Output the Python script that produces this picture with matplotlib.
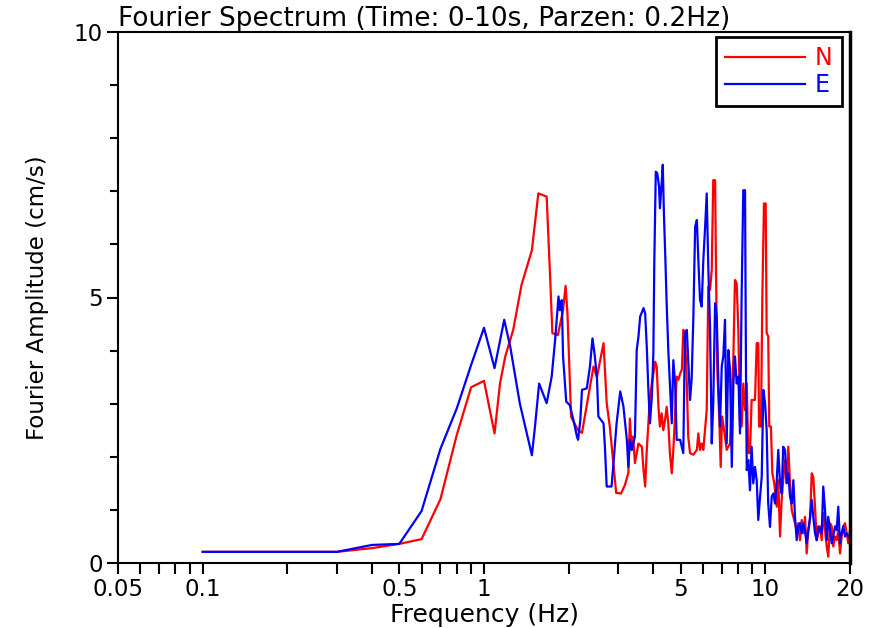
import numpy as np
import matplotlib
matplotlib.use("Agg")
import matplotlib.pyplot as plt
from matplotlib.ticker import FixedLocator, NullFormatter

# ---------------- data ----------------
freq_n = [0.1, 0.2, 0.3, 0.4, 0.5, 0.6, 0.7, 0.8, 0.9, 1.0, 1.09, 1.14, 1.19, 1.27, 1.36,
          1.48, 1.56, 1.67, 1.72, 1.75, 1.83, 1.91, 1.95, 1.98, 2.04, 2.16, 2.23, 2.35, 2.45,
          2.52, 2.66, 2.73, 2.80, 2.88, 2.95, 3.07, 3.17, 3.26, 3.30, 3.35, 3.39, 3.44, 3.54,
          3.64, 3.69, 3.74, 3.79, 3.84, 3.89, 3.95, 4.06, 4.11, 4.17, 4.22, 4.28, 4.34, 4.40,
          4.46, 4.52, 4.58, 4.65, 4.71, 4.78, 4.84, 4.91, 4.98, 5.05, 5.11, 5.18, 5.26, 5.32,
          5.40, 5.55, 5.71, 5.78, 5.86, 5.94, 6.02, 6.19, 6.27, 6.36, 6.45, 6.53, 6.63, 6.68,
          6.75, 6.87, 6.94, 7.02, 7.19, 7.29, 7.49, 7.70, 7.80, 7.91, 8.02, 8.13, 8.24, 8.35,
          8.47, 8.59, 8.70, 8.82, 8.94, 9.19, 9.32, 9.44, 9.50, 9.65, 9.76, 9.89, 10.03, 10.11,
          10.24, 10.33, 10.47, 10.59, 10.76, 10.98, 11.12, 11.28, 11.43, 11.58, 11.75, 11.91,
          12.07, 12.24, 12.41, 12.58, 12.93, 13.10, 13.28, 13.47, 13.65, 13.84, 14.03, 14.22,
          14.42, 14.62, 14.81, 15.02, 15.23, 15.43, 15.65, 15.86, 16.07, 16.30, 16.53, 16.74,
          16.98, 17.22, 17.44, 17.69, 17.93, 18.17, 18.43, 18.68, 18.93, 19.20, 19.47, 19.72,
          20.0]
amp_n = [0.21, 0.21, 0.21, 0.28, 0.36, 0.45, 1.20, 2.41, 3.31, 3.43, 2.44, 3.38, 3.89, 4.39, 5.24,
         5.89, 6.96, 6.90, 5.33, 4.33, 4.29, 4.76, 5.22, 4.70, 2.75, 2.50, 2.45, 3.15, 3.70,
         3.50, 4.14, 3.01, 2.57, 1.90, 1.32, 1.31, 1.47, 1.70, 2.72, 2.13, 2.38, 1.88, 2.25,
         2.19, 1.75, 1.44, 2.13, 2.63, 3.13, 3.38, 3.79, 3.70, 2.94, 2.57, 2.82, 2.50, 2.69,
         2.94, 2.63, 2.07, 1.69, 2.13, 2.82, 3.51, 3.45, 3.57, 3.64, 4.39, 4.36, 3.38, 2.38,
         2.07, 2.04, 2.13, 2.44, 2.13, 2.25, 2.13, 2.88, 5.20, 5.14, 5.52, 7.21, 7.21, 5.50,
         3.63, 2.63, 1.81, 2.76, 2.38, 2.13, 2.25, 3.89, 5.33, 5.27, 4.39, 2.57, 2.57, 3.38,
         2.88, 3.38, 2.07, 2.07, 3.07, 3.07, 4.14, 4.14, 2.57, 2.57, 5.02, 6.77, 6.77, 4.33,
         4.27, 2.57, 2.57, 1.69, 1.50, 1.06, 1.56, 0.50, 1.19, 1.56, 1.94, 1.56,
         2.19, 1.50, 1.00, 0.87, 0.62, 0.75, 0.43, 0.81, 0.56, 0.87, 0.18, 0.62,
         0.81, 1.69, 1.62, 1.06, 0.43, 0.56, 0.69, 0.43, 0.94, 0.62, 0.31, 0.12,
         0.75, 0.69, 0.31, 0.50, 0.43, 0.62, 0.18, 0.50, 0.69, 0.75, 0.56, 0.37,
         0.62]

freq_e = [0.1, 0.2, 0.3, 0.4, 0.5, 0.6, 0.7, 0.8, 0.9, 1.0, 1.09, 1.18, 1.24, 1.34, 1.48,
          1.52, 1.57, 1.67, 1.74, 1.79, 1.84, 1.86, 1.89, 1.91, 1.96, 2.02, 2.08, 2.14, 2.16,
          2.20, 2.23, 2.32, 2.38, 2.43, 2.47, 2.52, 2.55, 2.66, 2.69, 2.73, 2.84, 2.88, 2.96,
          3.05, 3.13, 3.22, 3.26, 3.30, 3.35, 3.44, 3.49, 3.54, 3.59, 3.69, 3.74, 3.79, 3.84,
          3.89, 3.95, 4.00, 4.03, 4.08, 4.13, 4.19, 4.22, 4.28, 4.32, 4.36, 4.41, 4.46, 4.52,
          4.58, 4.65, 4.71, 4.78, 4.84, 4.98, 5.11, 5.18, 5.26, 5.32, 5.40, 5.47, 5.55, 5.63,
          5.71, 5.78, 5.86, 5.94, 6.02, 6.11, 6.19, 6.27, 6.36, 6.45, 6.53, 6.63, 6.72, 6.81,
          6.90, 7.00, 7.09, 7.19, 7.29, 7.39, 7.49, 7.60, 7.70, 7.80, 7.91, 8.02, 8.13, 8.24,
          8.35, 8.47, 8.54, 8.59, 8.70, 8.82, 8.94, 9.06, 9.19, 9.32, 9.44, 9.58, 9.71, 9.84,
          9.98, 10.11, 10.24, 10.39, 10.54, 10.68, 10.83, 10.98, 11.12, 11.28, 11.43, 11.58,
          11.75, 11.91, 12.07, 12.24, 12.41, 12.58, 12.75, 12.93, 13.10, 13.28, 13.47, 13.65,
          13.84, 14.03, 14.22, 14.42, 14.62, 14.81, 15.02, 15.23, 15.43, 15.65, 15.86, 16.07,
          16.30, 16.53, 16.74, 16.98, 17.22, 17.44, 17.69, 17.93, 18.17, 18.43, 18.68, 18.93,
          19.20, 19.47, 19.72, 20.0]
amp_e = [0.21, 0.21, 0.21, 0.34, 0.36, 0.98, 2.15, 2.91, 3.73, 4.43, 3.67, 4.58, 4.07, 3.01, 2.03,
         2.60, 3.38, 3.01, 3.51, 4.20, 5.02, 4.76, 4.95, 3.89, 3.04, 2.97, 2.69, 2.38, 2.32,
         2.69, 3.26, 3.29, 3.70, 4.23, 3.95, 3.51, 2.76, 2.63, 2.19, 1.44, 1.44, 1.82, 2.63,
         3.23, 2.95, 2.32, 1.81, 2.32, 2.13, 2.38, 4.01, 4.26, 4.64, 4.80, 4.70, 4.07, 3.26,
         2.63, 3.13, 3.95, 5.64, 7.37, 7.34, 7.09, 6.68, 7.15, 7.50, 6.59, 5.77, 4.89, 4.01,
         3.38, 2.63, 3.82, 3.38, 2.32, 2.32, 2.07, 4.33, 4.39, 3.82, 3.07, 3.45, 4.64, 6.33,
         6.46, 5.71, 4.95, 4.83, 5.70, 6.33, 6.96, 5.58, 4.45, 2.25, 3.01, 4.89, 4.64, 3.38,
         2.57, 3.70, 3.89, 4.58, 2.25, 4.01, 3.64, 1.81, 3.38, 3.89, 3.38, 3.51, 2.44, 5.08,
         7.02, 7.02, 3.45, 1.75, 1.94, 1.37, 2.19, 1.50, 1.81, 1.56, 0.81, 1.25, 1.62, 3.26,
         3.01, 2.50, 1.12, 0.68, 1.25, 1.31, 1.12, 1.56, 2.13, 1.50, 1.31, 2.19,
         2.13, 1.50, 1.69, 1.25, 1.12, 1.56, 0.87, 0.43, 0.69, 0.75, 0.56, 0.75,
         0.62, 0.37, 0.62, 0.87, 1.19, 0.87, 0.56, 0.43, 0.69, 0.62, 0.56, 1.44,
         1.00, 0.43, 0.87, 0.62, 0.37, 0.50, 0.69, 0.62, 1.06, 0.37, 0.56, 0.69,
         0.50, 0.56, 0.50, 0.50]

series_labels = ['N', 'E']
series_colors = ['#ff0000', '#0000ff']

x_major = [0.05, 0.1, 0.5, 1, 5, 10, 20]
x_major_labels = ['0.05', '0.1', '0.5', '1', '5', '10', '20']
x_minor = [0.06, 0.07, 0.08, 0.09, 0.2, 0.3, 0.4, 0.6, 0.7, 0.8, 0.9,
           2, 3, 4, 6, 7, 8, 9]
y_major = [0, 5, 10]
y_minor = [1, 2, 3, 4, 6, 7, 8, 9]

title = 'Fourier Spectrum (Time: 0-10s, Parzen: 0.2Hz)'
xlabel = 'Frequency (Hz)'
ylabel = 'Fourier Amplitude (cm/s)'

# ---------------- figure ----------------
plt.rcParams['font.family'] = ['DejaVu Sans']

fig = plt.figure(figsize=(8.82, 6.28), dpi=100)
ax = fig.add_axes([118 / 882, 1 - 563 / 628, 732 / 882, 531 / 628])

ax.plot(freq_n, amp_n, color=series_colors[0], lw=1.6, label=series_labels[0])
ax.plot(freq_e, amp_e, color=series_colors[1], lw=1.6, label=series_labels[1])

ax.set_xscale('log')
ax.set_xlim(0.05, 20)
ax.set_ylim(0, 10)

ax.xaxis.set_major_locator(FixedLocator(x_major))
ax.set_xticklabels(x_major_labels)
ax.xaxis.set_minor_locator(FixedLocator(x_minor))
ax.xaxis.set_minor_formatter(NullFormatter())
ax.yaxis.set_major_locator(FixedLocator(y_major))
ax.set_yticklabels([str(v) for v in y_major])
ax.yaxis.set_minor_locator(FixedLocator(y_minor))

ax.tick_params(which='both', direction='out', width=1.5, labelsize=16.5, color='black')
ax.tick_params(axis='x', which='both', length=8, pad=3)
ax.tick_params(axis='y', which='major', length=8, pad=3)
ax.tick_params(axis='y', which='minor', length=6)

for s in ax.spines.values():
    s.set_linewidth(1.5)
ax.spines['right'].set_linewidth(2.5)

ax.set_xlabel(xlabel, fontsize=18, labelpad=1)
ax.set_ylabel(ylabel, fontsize=16.5, labelpad=18)
ax.set_title(title, loc='left', fontsize=19, pad=2)

leg = ax.legend(loc='upper right', bbox_to_anchor=(0.989, 0.9906), borderaxespad=0,
                fancybox=False, edgecolor='black', framealpha=1, fontsize=17,
                handlelength=3.4, handletextpad=0.4, labelcolor='linecolor',
                labelspacing=0.1, borderpad=0.4, markerfirst=True)
leg.get_frame().set_linewidth(2)
for ln in leg.get_lines():
    ln.set_linewidth(1.6)

fig.savefig('out.png', dpi=100)
